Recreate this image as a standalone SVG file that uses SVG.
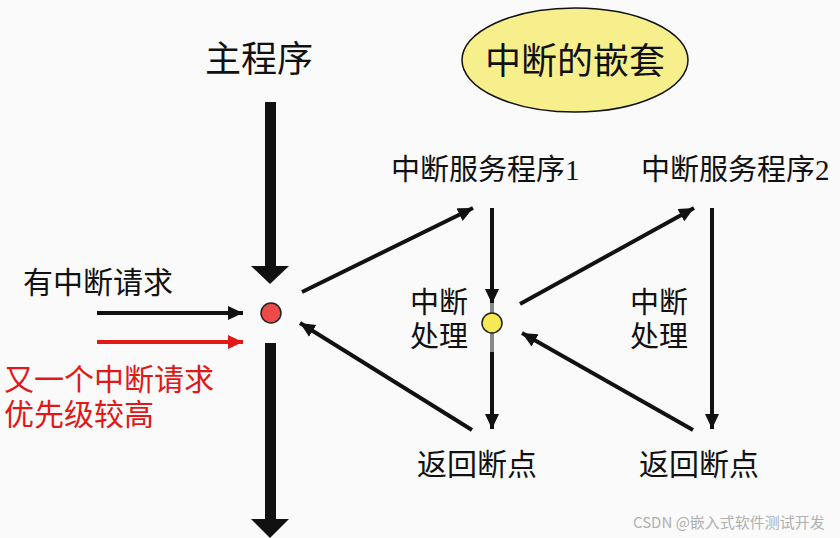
<svg xmlns="http://www.w3.org/2000/svg" width="840" height="538" viewBox="0 0 840 538">
<style>
text{font-family:"Noto Sans CJK SC","Noto Sans",sans-serif;fill:#111}
.t36{font-size:36px}
.t29{font-size:29px}
.t30{font-size:30px}
.red{fill:#e01818}
.dig{font-family:"Liberation Serif","DejaVu Serif",serif}
.thin{stroke:#111;stroke-width:4;fill:none;marker-end:url(#ah)}
.wm{font-size:15px;fill:#b0b0b0}
</style>
<defs>
<marker id="ah" markerUnits="userSpaceOnUse" markerWidth="16" markerHeight="14" refX="15" refY="7" orient="auto">
<path d="M0,0 L15,7 L0,14 z" fill="#111"/>
</marker>
<marker id="ahr" markerUnits="userSpaceOnUse" markerWidth="16" markerHeight="14" refX="15" refY="7" orient="auto">
<path d="M0,0 L15,7 L0,14 z" fill="#e01818"/>
</marker>
</defs>
<rect width="840" height="538" fill="#fafafa"/>

<g id="title-main"><text class="t36" x="205" y="72">主程序</text></g>
<g id="title-nest">
<ellipse cx="575" cy="60" rx="113" ry="52" fill="#f7ef8c" stroke="#111" stroke-width="1.5"/>
<text class="t36" x="575" y="74" text-anchor="middle">中断的嵌套</text>
</g>

<g id="connectors">
<!-- main program flow -->
<rect x="265" y="102" width="11" height="166" fill="#111"/>
<path d="M251,266 L289,266 L270,284 z" fill="#111"/>
<rect x="265" y="343" width="11" height="178" fill="#111"/>
<path d="M251,519 L289,519 L270,538 z" fill="#111"/>
<!-- requests -->
<line x1="97" y1="313" x2="243" y2="313" class="thin"/>
<line x1="97" y1="342" x2="243" y2="342" stroke="#e01818" stroke-width="4" marker-end="url(#ahr)"/>
<!-- to ISR1 -->
<line x1="302" y1="292" x2="473" y2="208" class="thin"/>
<!-- ISR1 vertical -->
<line x1="492" y1="208" x2="492" y2="304" class="thin"/>
<line x1="492" y1="303" x2="492" y2="352" stroke="#888" stroke-width="4"/>
<line x1="492" y1="352" x2="492" y2="429" class="thin"/>
<!-- to ISR2 -->
<line x1="520" y1="304" x2="694" y2="208" class="thin"/>
<!-- ISR2 vertical -->
<line x1="712" y1="208" x2="712" y2="429" class="thin"/>
<!-- returns -->
<line x1="693" y1="430" x2="522" y2="333" class="thin"/>
<line x1="472" y1="430" x2="300" y2="323" class="thin"/>
</g>

<g id="node-main-point"><circle cx="271" cy="313" r="10" fill="#ee4a4a" stroke="#222" stroke-width="1.5"/></g>
<g id="node-isr1-point"><circle cx="492" cy="323" r="10" fill="#f5ea55" stroke="#222" stroke-width="1.5"/></g>

<g id="label-req"><text class="t30" x="23" y="293">有中断请求</text></g>
<g id="label-req2">
<text class="t30 red" x="4" y="390">又一个中断请求</text>
<text class="t30 red" x="4" y="425">优先级较高</text>
</g>
<g id="node-isr1"><text class="t29" x="391" y="180">中断服务程序<tspan class="dig">1</tspan></text></g>
<g id="node-isr2"><text class="t29" x="641" y="180">中断服务程序<tspan class="dig">2</tspan></text></g>
<g id="label-proc1">
<text class="t29" x="410" y="313">中断</text>
<text class="t29" x="410" y="347">处理</text>
</g>
<g id="label-proc2">
<text class="t29" x="630" y="313">中断</text>
<text class="t29" x="630" y="347">处理</text>
</g>
<g id="node-ret1"><text class="t30" x="417" y="475">返回断点</text></g>
<g id="node-ret2"><text class="t30" x="639" y="475">返回断点</text></g>
<g id="watermark"><text class="wm" x="633" y="528">CSDN @嵌入式软件测试开发</text></g>
</svg>
